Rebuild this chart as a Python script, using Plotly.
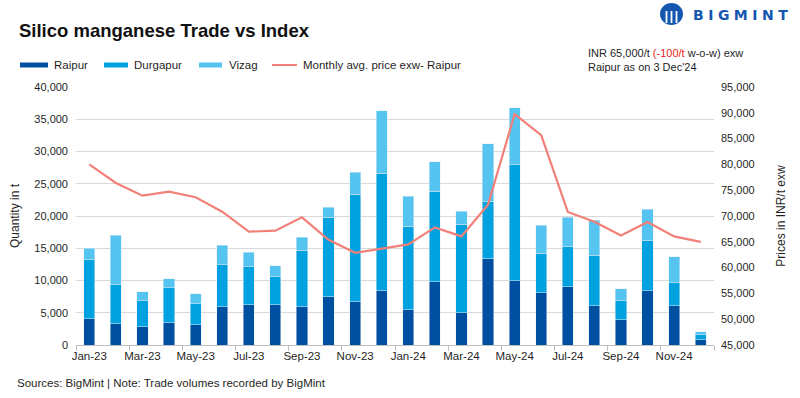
import plotly.graph_objects as go

months = ["Jan-23","Feb-23","Mar-23","Apr-23","May-23","Jun-23","Jul-23","Aug-23","Sep-23","Oct-23","Nov-23","Dec-23",
          "Jan-24","Feb-24","Mar-24","Apr-24","May-24","Jun-24","Jul-24","Aug-24","Sep-24","Oct-24","Nov-24","Dec-24"]
raipur = [4050,3270,2810,3430,3120,5930,6240,6240,5930,7480,6700,8420,
          5460,9820,4990,13410,9980,8110,9040,6080,3900,8420,6080,780]
durgapur = [9200,6090,4050,5460,3270,6540,5920,4360,8730,12320,16690,18240,
            12940,14040,13720,8890,17930,6080,6240,7800,2960,7800,3590,780]
vizag = [1720,7640,1400,1400,1560,2970,2190,1720,2020,1560,3430,9670,
         4680,4520,2030,8890,8890,4370,4520,5450,1870,4830,4050,470]
price = [80000,76400,73950,74730,73630,70840,66960,67150,69740,65400,62880,63650,
         64490,67800,66050,72200,89750,85670,70780,68900,66240,68830,66050,65000]

C_RAI = "#0050A2"
C_DUR = "#02A1DF"
C_VIZ = "#56C4F1"
C_LINE = "#F28078"
TXT = "#1F1F1F"

fig = go.Figure()
fig.add_bar(x=months, y=raipur, name="Raipur", marker_color=C_RAI, showlegend=False)
fig.add_bar(x=months, y=durgapur, name="Durgapur", marker_color=C_DUR, showlegend=False)
fig.add_bar(x=months, y=vizag, name="Vizag", marker_color=C_VIZ, showlegend=False)
fig.add_scatter(x=months, y=price, name="Monthly avg. price exw- Raipur", yaxis="y2", mode="lines",
                line=dict(color=C_LINE, width=2.2), showlegend=False)

fig.update_layout(
    width=800, height=398,
    margin=dict(l=76, r=86, t=87, b=53),
    paper_bgcolor="white", plot_bgcolor="white",
    barmode="stack", bargap=0.58,
    font=dict(family="Liberation Sans, Arial, sans-serif", size=11, color=TXT),
    xaxis=dict(type="category", tickmode="linear", tick0=0, dtick=2, tickson="boundaries",
               ticks="outside", ticklen=5, tickcolor="#BFBFBF", showline=True, linecolor="#BFBFBF",
               linewidth=1, showgrid=False, tickfont=dict(size=11.5, color=TXT), tickangle=0),
    yaxis=dict(range=[0, 40000], dtick=5000, tickformat=",", showgrid=True, gridcolor="#D9D9D9",
               gridwidth=1, zeroline=False, showline=False, tickfont=dict(size=11, color=TXT),
               ticklabelstandoff=7,
               title=dict(text="Quantity in t", font=dict(size=12, color=TXT), standoff=12)),
    yaxis2=dict(range=[45000, 95000], dtick=5000, tickformat=",", overlaying="y", side="right",
                showgrid=False, zeroline=False, showline=False, tickfont=dict(size=11, color=TXT),
                ticklabelstandoff=6,
                title=dict(text="Prices in INR/t exw", font=dict(size=12, color=TXT), standoff=22)),
)

def px2x(px):
    return (px - 76) / 638
def py2y(py):
    return (345 - py) / 258

# Title
fig.add_annotation(text="<b>Silico manganese Trade vs Index</b>", xref="paper", yref="paper",
                   x=px2x(17), y=py2y(30), xanchor="left", yanchor="middle", showarrow=False,
                   font=dict(size=18.5, color="#111111"))

# Manual legend
leg_y = 65
items = [(20, 48, 52, "Raipur", C_RAI, "bar"),
         (104, 128, 132, "Durgapur", C_DUR, "bar"),
         (199, 222, 227, "Vizag", C_VIZ, "bar"),
         (272, 297, 301, "Monthly avg. price exw- Raipur", C_LINE, "line")]
shapes = []
for x0, x1, tx, label, col, kind in items:
    if kind == "bar":
        shapes.append(dict(type="rect", xref="paper", yref="paper", x0=px2x(x0), x1=px2x(x1),
                           y0=py2y(leg_y + 2.5), y1=py2y(leg_y - 2.5), fillcolor=col, line=dict(width=0)))
    else:
        shapes.append(dict(type="line", xref="paper", yref="paper", x0=px2x(x0), x1=px2x(x1),
                           y0=py2y(leg_y), y1=py2y(leg_y), line=dict(color=col, width=2)))
    fig.add_annotation(text=label, xref="paper", yref="paper", x=px2x(tx), y=py2y(leg_y),
                       xanchor="left", yanchor="middle", showarrow=False, font=dict(size=11.5, color=TXT))

# Price note
fig.add_annotation(text="INR 65,000/t <span style='color:#E8241C'>(-100/t</span> w-o-w) exw<br>Raipur as on 3 Dec'24",
                   xref="paper", yref="paper", x=px2x(586), y=py2y(45), xanchor="left", yanchor="top",
                   align="left", showarrow=False, font=dict(size=11, color=TXT))

# Logo
LOGO = "#1457B0"
shapes.append(dict(type="circle", xref="paper", yref="paper", x0=px2x(660), x1=px2x(683),
                   y0=py2y(25), y1=py2y(3), fillcolor=LOGO, line=dict(width=0)))
for lx in (666.5, 671.5, 676.5):
    shapes.append(dict(type="rect", xref="paper", yref="paper", x0=px2x(lx - 0.9), x1=px2x(lx + 0.9),
                       y0=py2y(23), y1=py2y(11), fillcolor="white", line=dict(width=0)))
fig.add_annotation(text="<b><span style='letter-spacing:4.5px'>BIGMINT</span></b>", xref="paper", yref="paper",
                   x=px2x(691), y=py2y(15), xanchor="left", yanchor="middle", showarrow=False,
                   font=dict(family="DejaVu Sans, sans-serif", size=14, color=LOGO))

# Sources
fig.add_annotation(text="Sources: BigMint | Note: Trade volumes recorded by BigMint", xref="paper", yref="paper",
                   x=px2x(15), y=py2y(383), xanchor="left", yanchor="middle", showarrow=False,
                   font=dict(size=11.5, color=TXT))

fig.update_layout(shapes=shapes)
fig.write_html("out.html", config={"displayModeBar": False},
               post_script="document.body.style.margin='0';document.body.style.padding='0';")
